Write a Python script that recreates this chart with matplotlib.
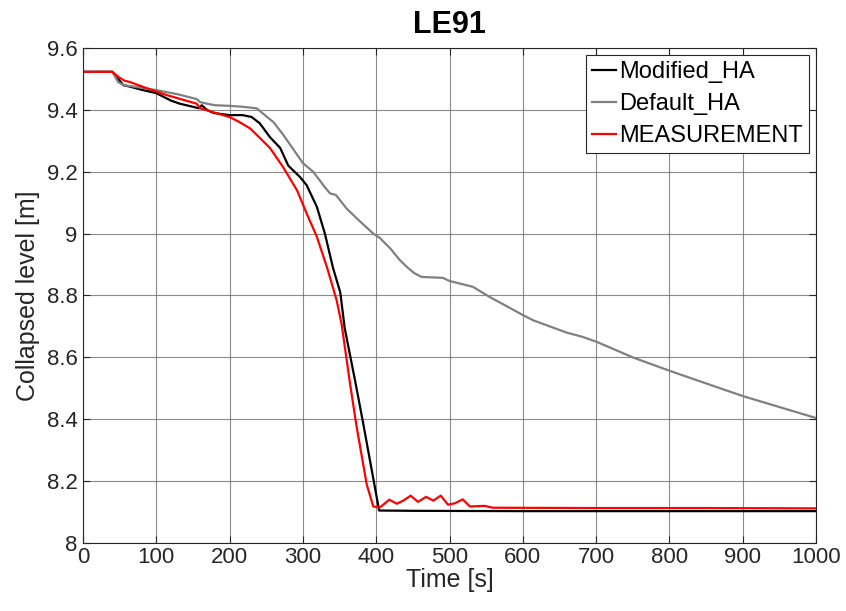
import matplotlib
matplotlib.use("Agg")
import matplotlib.pyplot as plt

plt.rcParams["font.family"] = ["Liberation Sans", "DejaVu Sans"]

# Modified_HA (black)
t_mod = [0, 40, 48, 55, 64, 80, 100, 120, 132, 150, 158, 162, 169, 178, 200, 218, 230,
         241, 255, 269, 280, 296, 305, 319, 330, 341, 351, 357, 371, 382, 404, 450, 600, 800, 1000]
y_mod = [9.523, 9.523, 9.50, 9.48, 9.475, 9.465, 9.454, 9.43, 9.42, 9.41, 9.405, 9.415, 9.40,
         9.39, 9.383, 9.383, 9.377, 9.357, 9.312, 9.277, 9.22, 9.183, 9.157, 9.087, 9.0, 8.89,
         8.81, 8.695, 8.527, 8.39, 8.105, 8.104, 8.103, 8.103, 8.103]

# Default_HA (gray)
t_def = [0, 40, 48, 55, 70, 100, 130, 155, 160, 169, 180, 200, 218, 237, 241, 260, 273, 300,
         314, 330, 337, 345, 360, 375, 396, 405, 420, 432, 442, 452, 462, 491, 500, 532, 555,
         600, 614, 660, 682, 701, 750, 801, 900, 1000]
y_def = [9.523, 9.523, 9.49, 9.48, 9.475, 9.464, 9.45, 9.435, 9.425, 9.42, 9.415, 9.413,
         9.41, 9.405, 9.397, 9.36, 9.32, 9.228, 9.2, 9.15, 9.13, 9.125, 9.08, 9.046, 9.0,
         8.986, 8.95, 8.915, 8.892, 8.872, 8.86, 8.857, 8.847, 8.828, 8.795, 8.737, 8.72,
         8.68, 8.666, 8.65, 8.60, 8.556, 8.475, 8.404]

# MEASUREMENT (red)
t_meas = [0, 40, 48, 56, 64, 87, 114, 155, 160, 191, 200, 214, 228, 241, 255, 273, 292, 305,
          319, 333, 346, 353, 364, 373, 387, 396, 405, 418, 428, 437, 447, 457, 468, 478,
          488, 498, 507, 518, 528, 548, 559, 700, 850, 1000]
y_meas = [9.523, 9.523, 9.507, 9.495, 9.49, 9.47, 9.448, 9.42, 9.405, 9.383, 9.377, 9.36,
          9.34, 9.31, 9.277, 9.215, 9.14, 9.066, 8.99, 8.89, 8.785, 8.705, 8.52, 8.38, 8.19,
          8.118, 8.115, 8.14, 8.127, 8.137, 8.153, 8.133, 8.149, 8.137, 8.153, 8.124, 8.128,
          8.141, 8.118, 8.12, 8.114, 8.113, 8.113, 8.112]

fig = plt.figure(figsize=(8.46, 6.11), dpi=100)
ax = fig.add_axes([83 / 846, 1 - 543 / 611, (816 - 83) / 846, (543 - 48) / 611])

ax.plot(t_mod, y_mod, color="black", lw=1.6, label="Modified_HA")
ax.plot(t_def, y_def, color="#808080", lw=1.6, label="Default_HA")
ax.plot(t_meas, y_meas, color="red", lw=1.6, label="MEASUREMENT")

ax.set_xlim(0, 1000)
ax.set_ylim(8, 9.6)
ax.set_xticks(range(0, 1001, 100))
ax.set_yticks([8, 8.2, 8.4, 8.6, 8.8, 9, 9.2, 9.4, 9.6])
ax.set_yticklabels(["8", "8.2", "8.4", "8.6", "8.8", "9", "9.2", "9.4", "9.6"])
ax.grid(True, color="#6e6e6e", lw=0.8, alpha=0.8)
ax.tick_params(direction="in", top=True, right=True, labelsize=16, length=5, width=0.8,
               colors="#262626")
ax.tick_params(axis="x", pad=3)
ax.tick_params(axis="y", pad=4)
for s in ax.spines.values():
    s.set_linewidth(0.8)
    s.set_color("#262626")

ax.set_xlabel("Time [s]", fontsize=18, labelpad=0, color="#262626")
ax.set_ylabel("Collapsed level [m]", fontsize=18, labelpad=5, color="#262626")
ax.set_title("LE91", fontsize=22, fontweight="bold", pad=11)

leg = ax.legend(loc="upper right", fontsize=17, handlelength=1.0, handletextpad=0.15,
                borderpad=0.25, labelspacing=0.42, borderaxespad=0.3, fancybox=False,
                framealpha=1)
leg.get_frame().set_edgecolor("#262626")
leg.get_frame().set_linewidth(0.8)

fig.savefig("out.png", dpi=100)
